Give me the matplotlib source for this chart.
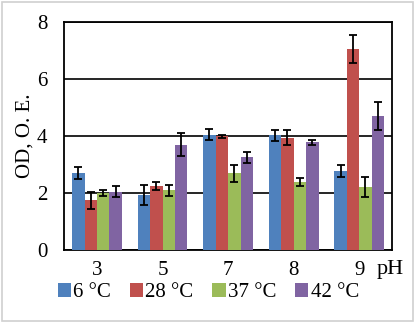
import numpy as np
import matplotlib.pyplot as plt
from matplotlib.patches import Rectangle

### DATA ###
ph_labels = ['3', '5', '7', '8', '9']
series_names = ['6 °C', '28 °C', '37 °C', '42 °C']
od_6 = [2.70, 1.95, 4.05, 4.03, 2.77]
od_28 = [1.75, 2.25, 4.00, 3.95, 7.05]
od_37 = [2.00, 2.10, 2.70, 2.39, 2.20]
od_42 = [2.05, 3.70, 3.25, 3.78, 4.70]
err_6 = [0.20, 0.35, 0.20, 0.20, 0.20]
err_28 = [0.30, 0.15, 0.05, 0.25, 0.50]
err_37 = [0.10, 0.20, 0.30, 0.15, 0.35]
err_42 = [0.20, 0.40, 0.20, 0.08, 0.50]
colors = ['#4F81BD', '#C0504D', '#9BBB59', '#8064A2']

plt.rcParams['font.family'] = ['Liberation Serif', 'DejaVu Serif']

fig = plt.figure(figsize=(4.17, 3.24), dpi=100)
ax = fig.add_axes([0.154, 0.228, 0.786, 0.704])

x = np.arange(len(ph_labels))
w = 0.19
values = [od_6, od_28, od_37, od_42]
errors = [err_6, err_28, err_37, err_42]
for i in range(4):
    ax.bar(x + (i - 1.5) * w, values[i], w, color=colors[i], label=series_names[i],
           yerr=errors[i], capsize=3,
           error_kw=dict(ecolor='black', elinewidth=1.3, capthick=1.3), zorder=3)

ax.set_ylim(0, 8)
ax.set_xlim(-0.5, 4.5)
ax.set_yticks([0, 2, 4, 6, 8])
ax.yaxis.grid(True, color='black', linewidth=1.2, zorder=0)
ax.set_xticks(x)
ax.set_xticklabels(ph_labels)
ax.tick_params(length=0, labelsize=15)
ax.tick_params(axis='x', pad=8)
ax.tick_params(axis='y', pad=12)
for s in ax.spines.values():
    s.set_linewidth(1.3)
    s.set_color('black')
ax.set_ylabel('OD, O. E.', fontsize=15, labelpad=2)
fig.text(0.903, 0.14, 'pH', fontsize=16, ha='left', va='bottom')

ax.legend(loc='center left', bbox_to_anchor=(0.138, 0.098), bbox_transform=fig.transFigure,
          ncol=4, frameon=False, fontsize=15, handlelength=0.65, handleheight=0.65,
          handletextpad=0.1, columnspacing=0.9, borderaxespad=0, borderpad=0)

fig.patches.append(Rectangle((0.004, 0.008), 0.986, 0.985, transform=fig.transFigure,
                             fill=False, edgecolor='#d0d0d0', linewidth=1.2))

plt.savefig('out.png', dpi=100)
